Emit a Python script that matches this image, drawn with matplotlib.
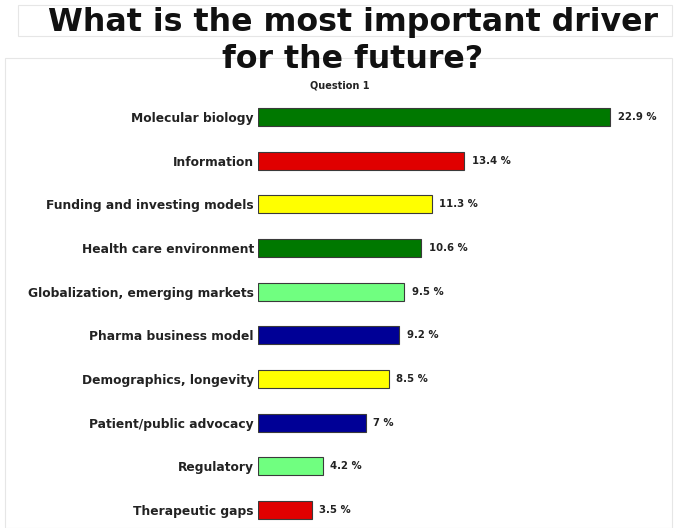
import matplotlib
matplotlib.use("Agg")
import matplotlib.pyplot as plt
from matplotlib.patches import Rectangle

categories = ["Molecular biology", "Information", "Funding and investing models",
              "Health care environment", "Globalization, emerging markets",
              "Pharma business model", "Demographics, longevity",
              "Patient/public advocacy", "Regulatory", "Therapeutic gaps"]
values = [22.9, 13.4, 11.3, 10.6, 9.5, 9.2, 8.5, 7, 4.2, 3.5]
value_labels = ["22.9 %", "13.4 %", "11.3 %", "10.6 %", "9.5 %", "9.2 %",
                "8.5 %", "7 %", "4.2 %", "3.5 %"]
colors = ["#007800", "#e00000", "#ffff00", "#007800", "#70ff80",
          "#000096", "#ffff00", "#000096", "#70ff80", "#e00000"]

W, H = 677, 528
fig = plt.figure(figsize=(W / 100, H / 100), dpi=100)

# faint panel frames
fig.patches.append(Rectangle((18 / W, 1 - 36 / H), 654 / W, 31 / H, transform=fig.transFigure,
                             fill=False, edgecolor="#e6e6e6", linewidth=0.8))
fig.patches.append(Rectangle((5 / W, 0.0), 667 / W, 1 - 58 / H, transform=fig.transFigure,
                             fill=False, edgecolor="#e6e6e6", linewidth=0.8))

fig.text(353 / W, 1 - 22 / H, "What is the most important driver", ha="center", va="center",
         fontsize=22.8, fontweight="bold", family="DejaVu Sans", color="#111111")
fig.text(353 / W, 1 - 59 / H, "for the future?", ha="center", va="center",
         fontsize=22.8, fontweight="bold", family="DejaVu Sans", color="#111111")
fig.text(340 / W, 1 - 86 / H, "Question 1", ha="center", va="center",
         fontsize=7.0, fontweight="bold", family="DejaVu Sans", color="#222222")

left, right = 258, 640
top_px, bot_px = 95.2, 527.5
ax = fig.add_axes([left / W, 1 - bot_px / H, (right - left) / W, (bot_px - top_px) / H])
ypos = list(range(len(categories)))
ax.barh(ypos, values, height=0.41, color=colors, edgecolor="#3a3a3a", linewidth=0.8)
ax.set_xlim(0, (right - left) / ((610 - 258) / 22.9))
ax.set_ylim(9.4, -0.5)
ax.set_yticks(ypos)
ax.set_yticklabels(categories, fontsize=8.8, fontweight="bold", family="DejaVu Sans",
                   color="#222222")
ax.tick_params(axis="y", length=0, pad=3)
ax.set_xticks([])
for s in ax.spines.values():
    s.set_visible(False)
for y, v, lab in zip(ypos, values, value_labels):
    ax.text(v + 0.5, y, lab, va="center", ha="left", fontsize=7.3, fontweight="bold",
            family="DejaVu Sans", color="#222222")

fig.savefig("out.png", dpi=100)
